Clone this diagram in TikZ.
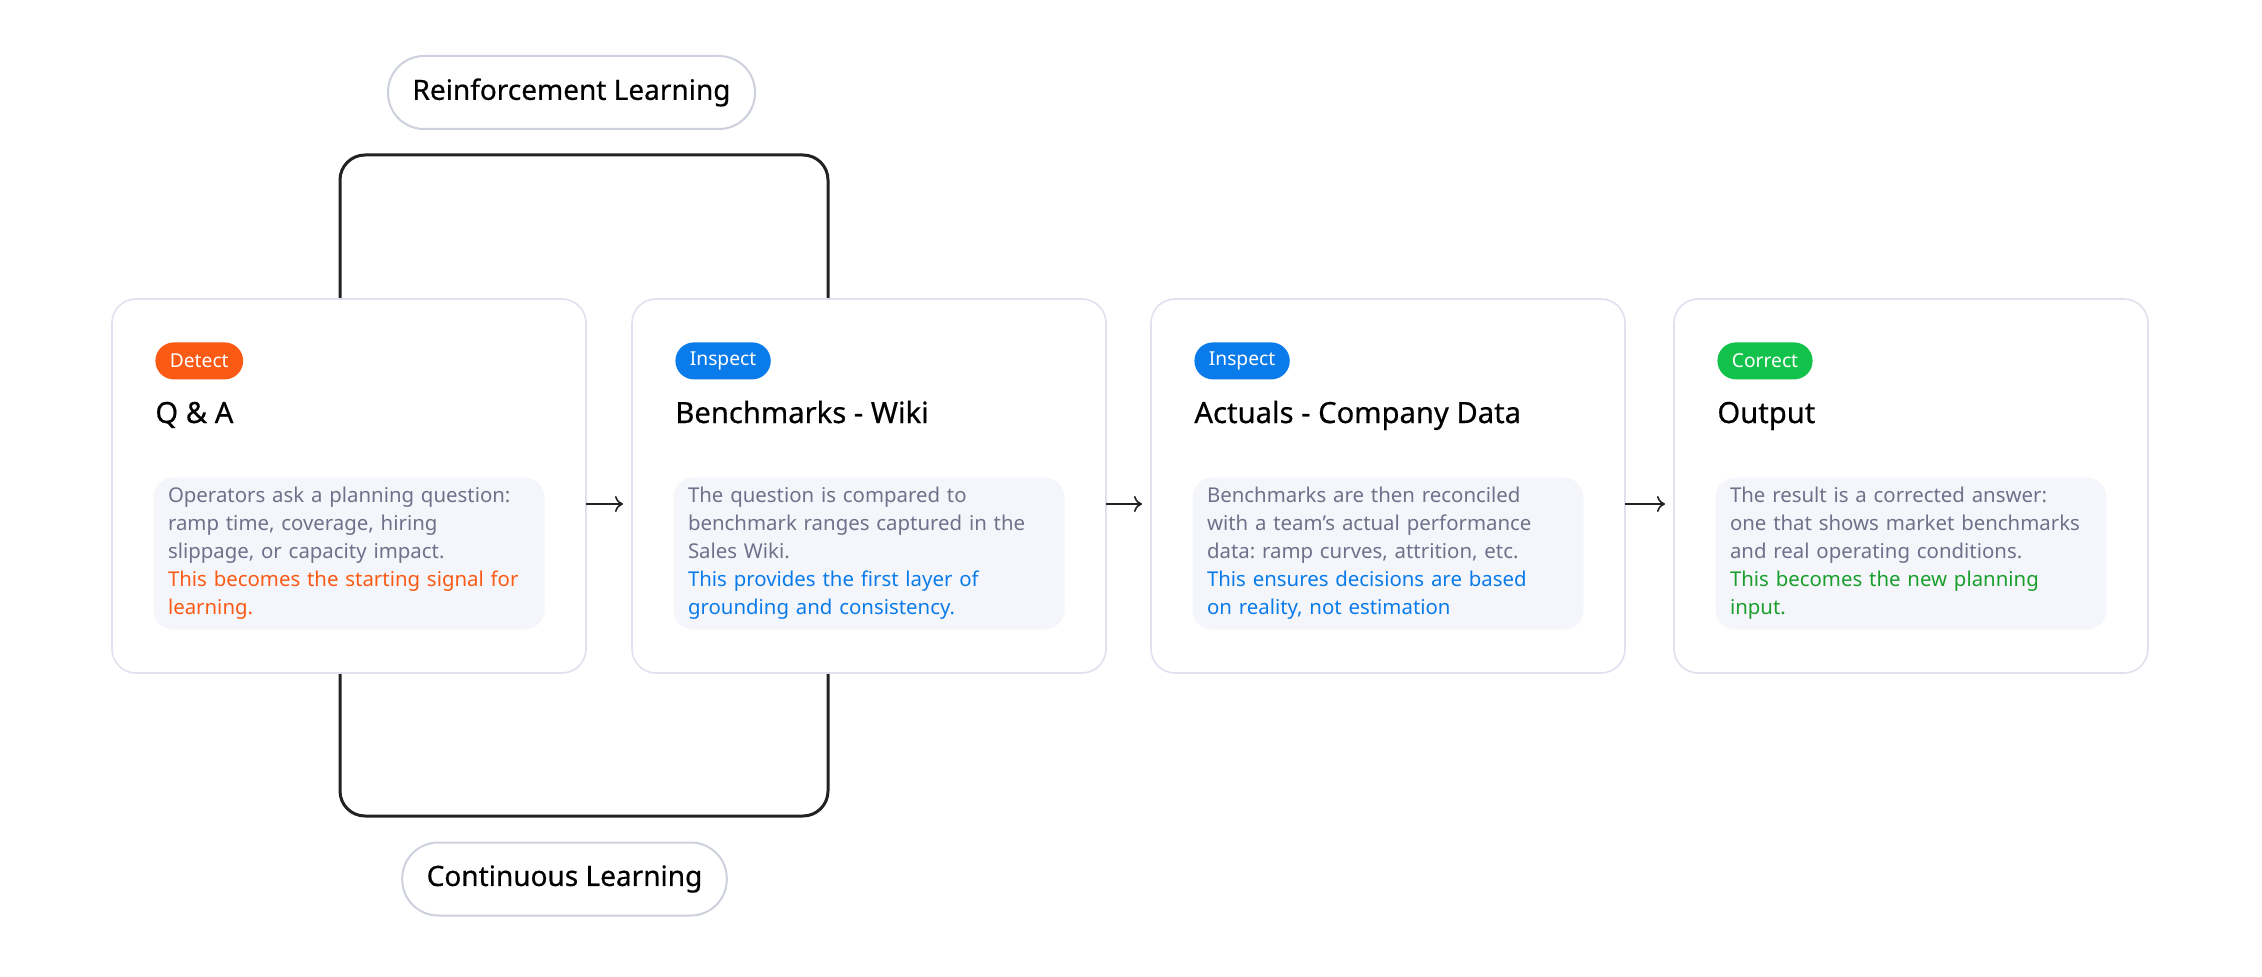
\documentclass[tikz,border=0pt]{standalone}
\usepackage{fontspec}
\setmainfont{Noto Sans}
\newfontfamily\headfont{Noto Sans}[FakeBold=0.5]
\usepackage{xcolor}
\usetikzlibrary{arrows.meta,positioning,shapes,calc}
\pgfdeclarelayer{bg}
\pgfsetlayers{bg,main}
\definecolor{cardline}{HTML}{DFE2EE}
\definecolor{boxfill}{HTML}{F5F6FB}
\definecolor{bodygray}{HTML}{6E7189}
\definecolor{detectorange}{HTML}{FA5A14}
\definecolor{inspectblue}{HTML}{0A7BEA}
\definecolor{correctgreen}{HTML}{12C24A}
\definecolor{outgreen}{HTML}{1A9E2C}
\definecolor{pillline}{HTML}{CDD1DD}
\definecolor{darkline}{HTML}{222222}
\frenchspacing

\begin{document}
\begin{tikzpicture}[x=0.5pt,y=0.5pt,
	card/.style={rectangle,rounded corners=12pt,draw=cardline,line width=0.8pt,fill=white,outer sep=0pt,
		minimum width=237pt,minimum height=187pt},
	tag/.style={rectangle,rounded corners=9.25pt,fill=#1,text=white,font=\fontsize{9.6}{12}\selectfont,
		minimum height=18.5pt,inner xsep=7.25pt,inner ysep=0pt},
	title/.style={font=\headfont\fontsize{14.6}{17}\selectfont,inner sep=0pt,text=black},
	note/.style={rectangle,rounded corners=10pt,fill=boxfill,minimum width=195.5pt,minimum height=76pt,
		text width=181pt,inner xsep=7.25pt,align=left,text=bodygray,font=\fontsize{10.2}{14}\selectfont},
	pill/.style={rectangle,rounded corners=18pt,draw=pillline,line width=1pt,fill=white,
		font=\headfont\fontsize{14}{16}\selectfont,minimum height=36.5pt,inner xsep=12.25pt},
	flow/.style={-{To[length=4pt,width=8pt]},line width=0.8pt,draw=darkline,shorten >=4.5pt},
	cycleline/.style={draw=darkline,line width=1.5pt,rounded corners=12.5pt}]

	\useasboundingbox (0,0) rectangle (2262,976);

	\node[card] (qa) at (349,490) {};
	\node[card] (wiki) [right = 23pt of qa] {};
	\node[card] (actuals) [right = 22.5pt of wiki] {};
	\node[card] (output) [right = 24.5pt of actuals] {};

	\node[tag=detectorange] (qaTag) [below right = 21.5pt and 21.5pt of qa.north west] {Detect};
	\node[tag=inspectblue] (wikiTag) [below right = 21.5pt and 21.5pt of wiki.north west] {Inspect};
	\node[tag=inspectblue] (actualsTag) [below right = 21.5pt and 21.5pt of actuals.north west] {Inspect};
	\node[tag=correctgreen] (outputTag) [below right = 21.5pt and 21.5pt of output.north west] {Correct};

	\node[title] (qaTitle) [below right = 62pt and 21.5pt of qa.north west, anchor=base west] {Q \& A};
	\node[title] (wikiTitle) [below right = 62pt and 21.5pt of wiki.north west, anchor=base west] {Benchmarks - Wiki};
	\node[title] (actualsTitle) [below right = 62pt and 21.5pt of actuals.north west, anchor=base west] {Actuals - Company Data};
	\node[title] (outputTitle) [below right = 62pt and 21.5pt of output.north west, anchor=base west] {Output};

	\node[note] (qaNote) [above = 21.5pt of qa.south] {Operators ask a planning question:\\ ramp time, coverage, hiring\\ slippage, or capacity impact.\\ \color{detectorange}This becomes the starting signal for\\ learning.};
	\node[note] (wikiNote) [above = 21.5pt of wiki.south] {The question is compared to\\ benchmark ranges captured in the\\ Sales Wiki.\\ \color{inspectblue}This provides the first layer of\\ grounding and consistency.};
	\node[note] (actualsNote) [above = 21.5pt of actuals.south] {Benchmarks are then reconciled\\ with a team’s actual performance\\ data: ramp curves, attrition, etc.\\ \color{inspectblue}This ensures decisions are based\\ on reality, not estimation};
	\node[note] (outputNote) [above = 21.5pt of output.south] {The result is a corrected answer:\\ one that shows market benchmarks\\ and real operating conditions.\\ \color{outgreen}This becomes the new planning\\ input.};

	\node[pill] (rl) at (571.5,883.5) {Reinforcement Learning};
	\node[pill] (cl) at (564.5,97) {Continuous Learning};

	\begin{pgfonlayer}{bg}
		\draw[cycleline] (340,160) rectangle (828,821);
	\end{pgfonlayer}

	\path
	([yshift=-9pt]qa.east) edge[flow] ([yshift=-9pt]wiki.west)
	([yshift=-9pt]wiki.east) edge[flow] ([yshift=-9pt]actuals.west)
	([yshift=-9pt]actuals.east) edge[flow] ([yshift=-9pt]output.west)
	;

\end{tikzpicture}
\end{document}
